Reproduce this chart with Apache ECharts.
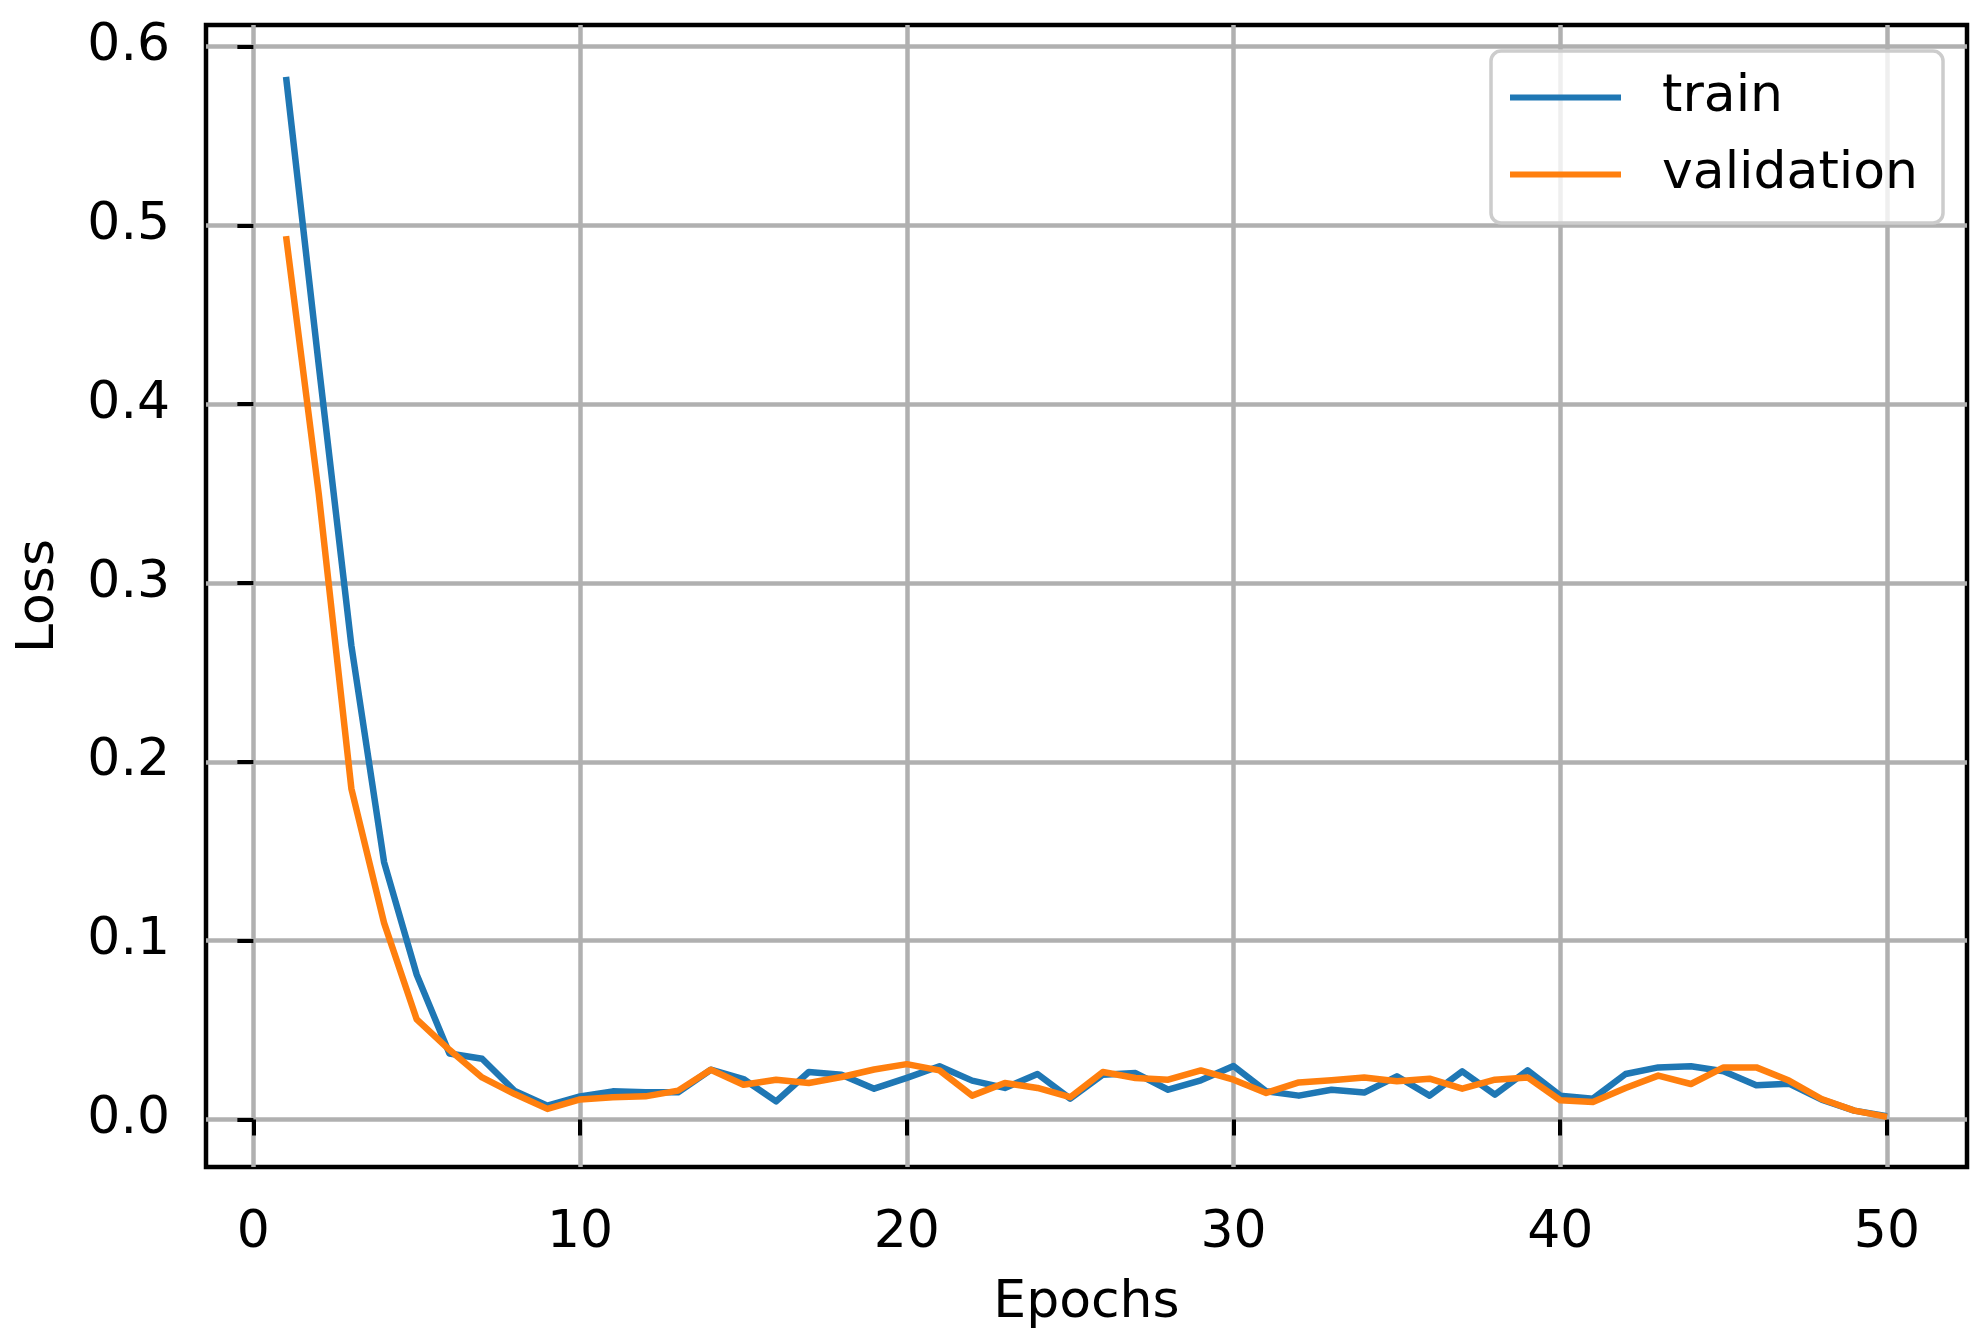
<!DOCTYPE html>
<html>
<head>
<meta charset="utf-8">
<script src="https://cdn.jsdelivr.net/npm/echarts@6/dist/echarts.min.js"></script>
<style>
  body { margin: 0; background: #fff; }
  #main { width: 1986px; height: 1343px; }
</style>
</head>
<body>
<div id="main"></div>
<script>
// loss per epoch
var epochs = [1, 2, 3, 4, 5, 6, 7, 8, 9, 10,
  11, 12, 13, 14, 15, 16, 17, 18, 19, 20,
  21, 22, 23, 24, 25, 26, 27, 28, 29, 30,
  31, 32, 33, 34, 35, 36, 37, 38, 39, 40,
  41, 42, 43, 44, 45, 46, 47, 48, 49, 50];
var trainLoss = [0.583, 0.422, 0.265, 0.144, 0.081, 0.037, 0.034, 0.016, 0.0078, 0.013,
  0.0158, 0.0153, 0.0153, 0.0279, 0.0227, 0.0102, 0.0266, 0.0251, 0.0173, 0.0233,
  0.0298, 0.0218, 0.0177, 0.0255, 0.0117, 0.0251, 0.026, 0.0167, 0.022, 0.030,
  0.0158, 0.0134, 0.0167, 0.0151, 0.0242, 0.0134, 0.027, 0.014, 0.0275, 0.0134,
  0.0117, 0.0255, 0.0292, 0.0298, 0.027, 0.0192, 0.0201, 0.0112, 0.005, 0.0019];
var valLoss = [0.494, 0.35, 0.185, 0.11, 0.056, 0.039, 0.0236, 0.0143, 0.006, 0.0113,
  0.0125, 0.013, 0.0162, 0.0279, 0.0195, 0.0223, 0.0205, 0.0238, 0.028, 0.031,
  0.0275, 0.0134, 0.0205, 0.0177, 0.0125, 0.0266, 0.0233, 0.0223, 0.0275, 0.0223,
  0.0149, 0.0208, 0.022, 0.0235, 0.0214, 0.0229, 0.0173, 0.0223, 0.0236, 0.0108,
  0.0099, 0.0177, 0.0246, 0.0199, 0.0292, 0.0292, 0.0218, 0.0115, 0.005, 0.0015];
var xTicks = [0, 10, 20, 30, 40, 50];
var yTicks = [0, 0.1, 0.2, 0.3, 0.4, 0.5, 0.6];

var font = 'DejaVu Sans';

function pairs(ys) {
  return epochs.map(function (e, i) { return [e, ys[i]]; });
}

var chart = echarts.init(document.getElementById('main'), null, { renderer: 'canvas' });

var option = {
  animation: false,
  backgroundColor: '#ffffff',
  grid: {
    left: 206, right: 19, top: 25, bottom: 176,
    show: true, borderColor: '#000', borderWidth: 4.5, backgroundColor: 'transparent'
  },
  legend: {
    data: ['train', 'validation'],
    orient: 'vertical',
    left: 1491, top: 51,
    padding: [15, 25, 17, 19],
    itemGap: 14,
    itemWidth: 111, itemHeight: 6,
    icon: 'rect',
    backgroundColor: 'rgba(255,255,255,0.8)',
    borderColor: '#cccccc', borderWidth: 3.5, borderRadius: 10,
    textStyle: { fontFamily: font, fontSize: 52, color: '#000', lineHeight: 56, padding: [7, 0, 0, 36] }
  },
  xAxis: {
    type: 'value',
    min: -1.45, max: 52.45,
    name: 'Epochs', nameLocation: 'middle', nameGap: 110,
    nameTextStyle: { fontFamily: font, fontSize: 52, color: '#000' },
    axisLine: { show: false },
    axisTick: { show: true, inside: false, length: 16, customValues: xTicks, lineStyle: { color: '#000', width: 4 } },
    axisLabel: { margin: 40, customValues: xTicks, fontFamily: font, fontSize: 52, color: '#000' },
    splitLine: { show: true, lineStyle: { color: '#b0b0b0', width: 4.5 } }
  },
  yAxis: {
    type: 'value',
    min: -0.0265, max: 0.612,
    name: 'Loss', nameLocation: 'middle', nameGap: 141,
    nameTextStyle: { fontFamily: font, fontSize: 52, color: '#000' },
    axisLine: { show: false },
    axisTick: { show: true, inside: false, length: 16, customValues: yTicks, lineStyle: { color: '#000', width: 4 } },
    axisLabel: {
      margin: 36, customValues: yTicks, fontFamily: font, fontSize: 52, color: '#000',
      padding: [8, 0, 0, 0],
      formatter: function (v) { return v.toFixed(1); }
    },
    splitLine: { show: true, lineStyle: { color: '#b0b0b0', width: 4.5 } }
  },
  series: [
    {
      name: 'train', type: 'line', data: pairs(trainLoss),
      showSymbol: false, color: '#1f77b4',
      lineStyle: { width: 6.5, color: '#1f77b4', join: 'round' }
    },
    {
      name: 'validation', type: 'line', data: pairs(valLoss),
      showSymbol: false, color: '#ff7f0e',
      lineStyle: { width: 6.5, color: '#ff7f0e', join: 'round' }
    }
  ]
};

chart.setOption(option);
</script>
</body>
</html>
